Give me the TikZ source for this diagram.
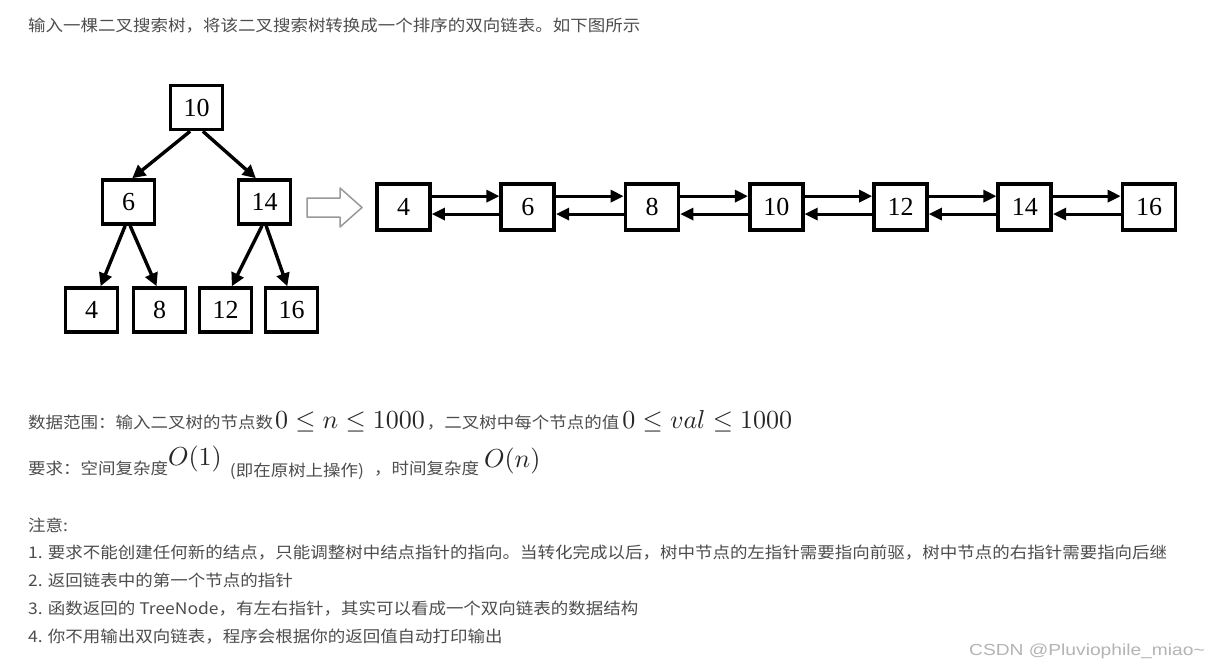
\documentclass[tikz,border=0pt]{standalone}
\usepackage{graphicx}
\usepackage[no-math]{fontspec}
\setmainfont{Noto Sans CJK SC}[FakeStretch=1.093]
\newfontfamily\boxfont{Liberation Serif}
\newfontfamily\markfont{Liberation Sans}[FakeStretch=1.2]
\usepackage{tikz}
\usetikzlibrary{positioning, arrows.meta}
\definecolor{textgray}{HTML}{4D4D4D}
\definecolor{mathgray}{HTML}{262626}
\definecolor{markgray}{HTML}{B4B4B4}
\newcommand{\mth}[1]{\textcolor{mathgray}{\scalebox{2.6}{\fontsize{10}{12}\selectfont$#1$}}}

\begin{document}
\begin{tikzpicture}[x=1pt, y=-1pt,
    txt/.style={anchor=base west, inner sep=0pt, text=textgray, font=\fontsize{16}{20}\selectfont},
    tbox/.style={draw, line width=3.6pt, minimum width=52pt, minimum height=44pt, inner sep=0pt,
                 font=\boxfont\fontsize{26}{26}\selectfont},
    lbox/.style={tbox, minimum width=53pt, minimum height=46pt},
    tarrow/.style={line width=3.4pt, -{Triangle[length=13pt, width=13pt]}},
    larrow/.style={line width=3pt, -{Triangle[length=13pt, width=12pt]}}]
  \path[use as bounding box, fill=white] (0,0) rectangle (1218,667);

  \node[txt] (intro) at (28,31) {输入一棵二叉搜索树，将该二叉搜索树转换成一个排序的双向链表。如下图所示};

  % tree
  \node[tbox] (t10) at (196.5,107.5) {10};
  \node[tbox] (t6)  at (128.5,202) {6};
  \node[tbox] (t14) at (264.5,202) {14};
  \node[tbox] (t4)  at (91.5,310) {4};
  \node[tbox] (t8)  at (159.5,310) {8};
  \node[tbox] (t12) at (225.5,310) {12};
  \node[tbox] (t16) at (291.5,310) {16};
  \draw[tarrow] (t10.255) -- (t6.81);
  \draw[tarrow] (t10.285) -- (t14.110);
  \draw[tarrow] (t6.262) -- (t4.69);
  \draw[tarrow] (t6.274) -- (t8.97);
  \draw[tarrow] (t14.264) -- (t12.75);
  \draw[tarrow] (t14.274) -- (t16.100);

  \draw[draw=black!40, line width=1.5pt, line join=round]
    (307,198) -- (340,198) -- (340,188) -- (362,207.5) -- (340,227) -- (340,217) -- (307,217) -- cycle;

  % list
  \node[lbox] (l4) at (403.5,207) {4};
  \node[lbox, right=67.65pt of l4] (l6) {6};
  \node[lbox, right=67.65pt of l6] (l8) {8};
  \node[lbox, right=67.65pt of l8] (l10) {10};
  \node[lbox, right=67.65pt of l10] (l12) {12};
  \node[lbox, right=67.65pt of l12] (l14) {14};
  \node[lbox, right=67.65pt of l14] (l16) {16};
  \draw[larrow] (l4.21) -- (l6.159);
  \draw[larrow] (l6.194) -- (l4.-14);
  \draw[larrow] (l6.21) -- (l8.159);
  \draw[larrow] (l8.194) -- (l6.-14);
  \draw[larrow] (l8.21) -- (l10.159);
  \draw[larrow] (l10.194) -- (l8.-14);
  \draw[larrow] (l10.21) -- (l12.159);
  \draw[larrow] (l12.194) -- (l10.-14);
  \draw[larrow] (l12.21) -- (l14.159);
  \draw[larrow] (l14.194) -- (l12.-14);
  \draw[larrow] (l14.21) -- (l16.159);
  \draw[larrow] (l16.194) -- (l14.-14);

  \node[txt] (range) at (28,428) {数据范围：输入二叉树的节点数\hspace{2pt}\mth{0\leq n\leq 1000}\hspace{2pt}，二叉树中每个节点的值\hspace{3pt}\mth{0\leq val\leq 1000}};
  \node[txt] (req) at (28,474) {要求：空间复杂度\raisebox{9pt}{\mth{O(1)}}\hspace{8pt}\raisebox{-2pt}{(即在原树上操作)}\hspace{10pt}，时间复杂度\hspace{5pt}\raisebox{7pt}{\mth{O(n)}}};

  \node[txt] (note) at (28,531) {注意:};
  \node[txt] (n1) at (28,558) {1. 要求不能创建任何新的结点，只能调整树中结点指针的指向。当转化完成以后，树中节点的左指针需要指向前驱，树中节点的右指针需要指向后继};
  \node[txt] (n2) at (28,586) {2. 返回链表中的第一个节点的指针};
  \node[txt] (n3) at (28,614) {3. 函数返回的 TreeNode，有左右指针，其实可以看成一个双向链表的数据结构};
  \node[txt] (n4) at (28,642) {4. 你不用输出双向链表，程序会根据你的返回值自动打印输出};

  \node[anchor=base east, inner sep=0pt, text=markgray, font=\markfont\fontsize{16}{20}\selectfont]
    (mark) at (1205,655) {CSDN @Pluviophile\_miao\textasciitilde};
\end{tikzpicture}
\end{document}
